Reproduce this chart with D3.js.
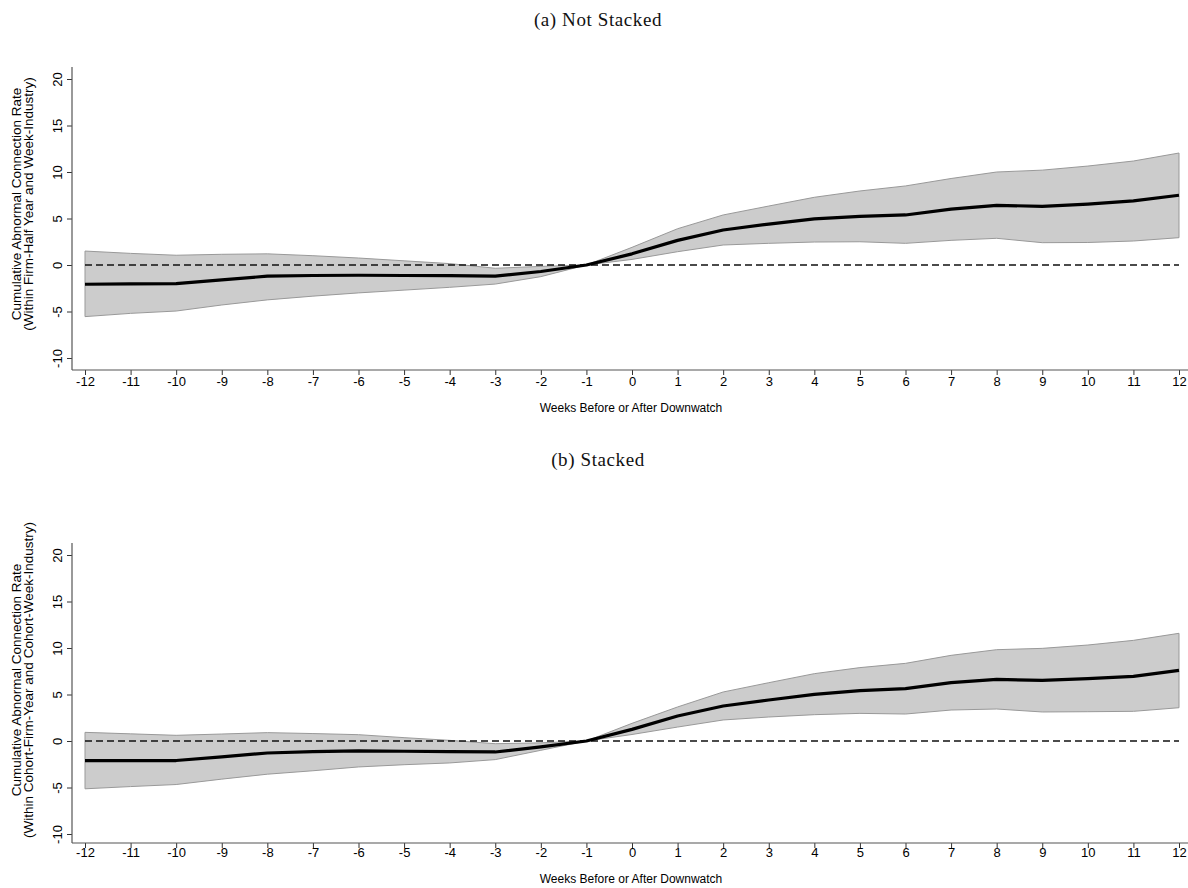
<!DOCTYPE html>
<html>
<head>
<meta charset="utf-8">
<script src="https://cdn.jsdelivr.net/npm/d3@7"></script>
<style>
  html, body { margin: 0; padding: 0; background: #fff; }
  svg { display: block; }
  .tick text { font-family: "Liberation Sans", Arial, sans-serif; font-size: 13px; fill: #000; }
</style>
</head>
<body>
<svg id="chart" width="1188" height="888"></svg>
<script>
// Event-time grid (weeks relative to the downwatch)
const weeks = [-12, -11, -10, -9, -8, -7, -6, -5, -4, -3, -2, -1, 0, 1, 2, 3, 4, 5, 6, 7, 8, 9, 10, 11, 12];
const yTicks = [-10, -5, 0, 5, 10, 15, 20];

// (a) Not stacked: cumulative abnormal connection rate and 95% band
const notStackedCoef  = [-2.07, -2.03, -2.0, -1.6, -1.2, -1.13, -1.1, -1.13, -1.15, -1.2, -0.7, 0, 1.2, 2.65, 3.76, 4.4, 4.95, 5.23, 5.38, 6.0, 6.42, 6.3, 6.55, 6.9, 7.5];
const notStackedUpper = [1.5, 1.25, 1.05, 1.15, 1.2, 1.0, 0.75, 0.45, 0.15, -0.35, -0.15, 0, 1.9, 3.9, 5.38, 6.34, 7.28, 7.96, 8.5, 9.3, 10.0, 10.2, 10.64, 11.18, 12.04];
const notStackedLower = [-5.55, -5.2, -4.95, -4.3, -3.75, -3.35, -3.0, -2.7, -2.4, -2.05, -1.25, 0, 0.6, 1.43, 2.15, 2.33, 2.47, 2.5, 2.33, 2.65, 2.87, 2.4, 2.42, 2.58, 2.94];

// (b) Stacked: cumulative abnormal connection rate and 95% band
const stackedCoef  = [-2.1, -2.1, -2.1, -1.7, -1.29, -1.15, -1.07, -1.1, -1.14, -1.18, -0.64, 0, 1.25, 2.69, 3.76, 4.41, 5.02, 5.41, 5.63, 6.27, 6.63, 6.52, 6.7, 6.95, 7.6];
const stackedUpper = [0.93, 0.77, 0.61, 0.75, 0.9, 0.8, 0.68, 0.36, 0.07, -0.29, -0.2, 0, 1.9, 3.66, 5.27, 6.27, 7.24, 7.89, 8.35, 9.21, 9.82, 9.96, 10.32, 10.82, 11.58];
const stackedLower = [-5.14, -4.9, -4.68, -4.1, -3.57, -3.2, -2.79, -2.55, -2.36, -2.0, -1.0, 0, 0.7, 1.5, 2.26, 2.58, 2.83, 2.97, 2.9, 3.33, 3.44, 3.12, 3.15, 3.19, 3.58];

const panels = [
  {
    title: "(a) Not Stacked",
    yTitle: ["Cumulative Abnormal Connection Rate", "(Within Firm-Half Year and Week-Industry)"],
    coef: notStackedCoef, upper: notStackedUpper, lower: notStackedLower,
    top: 0, titleY: 22, plotBottom: 370, xLabelGap: 2, xTitleY: 409
  },
  {
    title: "(b) Stacked",
    yTitle: ["Cumulative Abnormal Connection Rate", "(Within Cohort-Firm-Year and Cohort-Week-Industry)"],
    coef: stackedCoef, upper: stackedUpper, lower: stackedLower,
    top: 476, titleY: -14, plotBottom: 367, xLabelGap: 0, xTitleY: 404
  }
];

const svg = d3.select("#chart");
const sans = "'Liberation Sans', Arial, sans-serif";
const plainNumber = d => String(d);

const x = d3.scaleLinear().domain([-12, 12]).range([85, 1179]);

panels.forEach(p => {
  const g = svg.append("g").attr("transform", `translate(0,${p.top})`);
  const y = d3.scaleLinear().domain([-10, 20]).range([358, 79]);
  const plotTop = 67, plotLeft = 72, plotRight = 1188;

  const rows = weeks.map((w, k) => ({ w, c: p.coef[k], hi: p.upper[k], lo: p.lower[k] }));

  // confidence band
  const band = d3.area().x(d => x(d.w)).y0(d => y(d.lo)).y1(d => y(d.hi));
  g.append("path").datum(rows)
    .attr("d", band)
    .attr("fill", "#cccccc")
    .attr("stroke", "#999999")
    .attr("stroke-width", 1);

  // zero reference
  g.append("line")
    .attr("x1", x(-12)).attr("x2", x(12))
    .attr("y1", y(0)).attr("y2", y(0))
    .attr("stroke", "#111").attr("stroke-width", 1.6)
    .attr("stroke-dasharray", "7,4");

  // point estimates
  const line = d3.line().x(d => x(d.w)).y(d => y(d.c));
  g.append("path").datum(rows)
    .attr("d", line)
    .attr("fill", "none")
    .attr("stroke", "#000")
    .attr("stroke-width", 3.2)
    .attr("stroke-linejoin", "round");

  // y axis
  const yAxis = g.append("g").attr("transform", `translate(${plotLeft},0)`)
    .call(d3.axisLeft(y).tickValues(yTicks).tickFormat(plainNumber).tickSize(5).tickPadding(3));
  yAxis.select(".domain").remove();
  yAxis.selectAll(".tick line").attr("stroke", "#333");
  yAxis.selectAll(".tick text")
    .attr("text-anchor", "middle")
    .attr("transform", "translate(-15,0) rotate(-90)")
    .attr("x", 0).attr("dy", "0.35em");
  g.append("line")
    .attr("x1", plotLeft).attr("x2", plotLeft)
    .attr("y1", plotTop).attr("y2", p.plotBottom)
    .attr("stroke", "#555").attr("stroke-width", 1.2);

  // x axis
  const xAxis = g.append("g").attr("transform", `translate(0,${p.plotBottom})`)
    .call(d3.axisBottom(x).tickValues(weeks).tickFormat(plainNumber).tickSize(5).tickPadding(p.xLabelGap));
  xAxis.select(".domain").remove();
  xAxis.selectAll(".tick line").attr("stroke", "#333");
  g.append("line")
    .attr("x1", plotLeft).attr("x2", plotRight)
    .attr("y1", p.plotBottom).attr("y2", p.plotBottom)
    .attr("stroke", "#555").attr("stroke-width", 1.2);

  g.append("text")
    .attr("x", 631).attr("y", p.xTitleY)
    .attr("text-anchor", "middle").attr("dominant-baseline", "middle")
    .attr("font-family", sans).attr("font-size", 12)
    .text("Weeks Before or After Downwatch");

  // y title (two lines)
  const cy = 204;
  p.yTitle.forEach((t, j) => {
    g.append("text")
      .attr("transform", `translate(${17 + j * 12},${cy}) rotate(-90)`)
      .attr("text-anchor", "middle").attr("dominant-baseline", "middle")
      .attr("font-family", sans).attr("font-size", 13.5)
      .text(t);
  });

  // panel caption
  g.append("text")
    .attr("x", 598).attr("y", p.titleY)
    .attr("text-anchor", "middle").attr("dominant-baseline", "middle")
    .attr("font-family", "'Liberation Serif', 'DejaVu Serif', serif").attr("font-size", 19)
    .attr("letter-spacing", 0.6)
    .attr("fill", "#111")
    .text(p.title);
});
</script>
</body>
</html>
